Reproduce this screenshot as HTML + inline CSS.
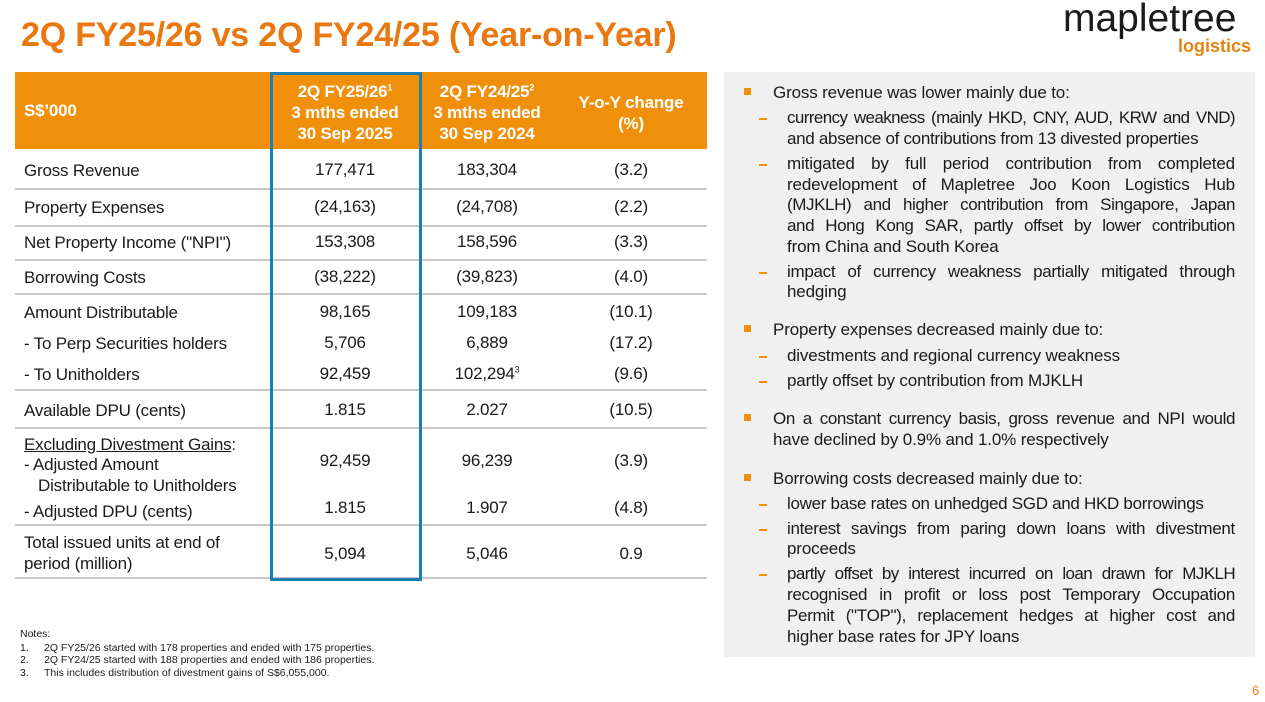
<!DOCTYPE html>
<html><head><meta charset="utf-8">
<style>
body{margin:0;width:1265px;height:702px;background:#fff;position:relative;overflow:hidden;font-family:"Liberation Sans",sans-serif;color:#1a1a1a}
div{position:absolute}
sup{line-height:0;font-size:9px}
.t{font-size:17px;line-height:20px;white-space:nowrap;letter-spacing:-0.2px}
.c{width:140px;text-align:center}
.hl{background:#c8c8c8;height:2px;left:15px;width:692px}
.r{font-size:17px;line-height:20px;white-space:nowrap;letter-spacing:-0.15px}
.j{width:448px;text-align:justify;text-align-last:justify;left:787px}
.sq{width:7px;height:7px;background:#f0900a;left:744px}
.dash{left:759px;width:8px;height:2px;background:#f0900a}
.n{font-size:10.5px;line-height:12px;white-space:nowrap}
</style></head><body>
<div style="left:21px;top:16px;font-size:34px;font-weight:bold;color:#e8780f;white-space:nowrap;letter-spacing:-0.2px">2Q FY25/26 vs 2Q FY24/25 (Year-on-Year)</div>
<div style="left:1063px;top:-3px;font-size:39px;line-height:44px;color:#1a1a1a;white-space:nowrap;letter-spacing:0px">mapletree</div>
<div style="left:1178px;top:36px;font-size:18px;font-weight:bold;color:#e8820f">logistics</div>

<div style="left:15px;top:72px;width:692px;height:77px;background:#f0900a"></div>
<div class="t" style="left:24px;top:101px;color:#fff;font-weight:bold">S$’000</div>
<div class="t c" style="left:275px;top:81px;color:#fff;font-weight:bold;line-height:21px">2Q FY25/26<sup>1</sup><br>3 mths ended<br>30 Sep 2025</div>
<div class="t c" style="left:417px;top:81px;color:#fff;font-weight:bold;line-height:21px">2Q FY24/25<sup>2</sup><br>3 mths ended<br>30 Sep 2024</div>
<div class="t c" style="left:561px;top:92px;color:#fff;font-weight:bold;line-height:21px">Y-o-Y change<br>(%)</div>

<div class="hl" style="top:188px"></div>
<div class="hl" style="top:225px"></div>
<div class="hl" style="top:259px"></div>
<div class="hl" style="top:293px"></div>
<div class="hl" style="top:389px"></div>
<div class="hl" style="top:427px"></div>
<div class="hl" style="top:524px"></div>
<div class="hl" style="top:577px"></div>

<div>
<div class="t" style="left:24px;top:161px">Gross Revenue</div><div class="t c" style="left:275px;top:160px">177,471</div><div class="t c" style="left:417px;top:160px">183,304</div><div class="t c" style="left:561px;top:160px">(3.2)</div></div>
<div>
<div class="t" style="left:24px;top:198px">Property Expenses</div><div class="t c" style="left:275px;top:197px">(24,163)</div><div class="t c" style="left:417px;top:197px">(24,708)</div><div class="t c" style="left:561px;top:197px">(2.2)</div></div>
<div>
<div class="t" style="left:24px;top:233px">Net Property Income ("NPI")</div><div class="t c" style="left:275px;top:232px">153,308</div><div class="t c" style="left:417px;top:232px">158,596</div><div class="t c" style="left:561px;top:232px">(3.3)</div></div>
<div>
<div class="t" style="left:24px;top:268px">Borrowing Costs</div><div class="t c" style="left:275px;top:267px">(38,222)</div><div class="t c" style="left:417px;top:267px">(39,823)</div><div class="t c" style="left:561px;top:267px">(4.0)</div></div>
<div>
<div class="t" style="left:24px;top:303px">Amount Distributable</div><div class="t c" style="left:275px;top:302px">98,165</div><div class="t c" style="left:417px;top:302px">109,183</div><div class="t c" style="left:561px;top:302px">(10.1)</div></div>
<div>
<div class="t" style="left:24px;top:334px">- To Perp Securities holders</div><div class="t c" style="left:275px;top:333px">5,706</div><div class="t c" style="left:417px;top:333px">6,889</div><div class="t c" style="left:561px;top:333px">(17.2)</div></div>
<div>
<div class="t" style="left:24px;top:365px">- To Unitholders</div><div class="t c" style="left:275px;top:364px">92,459</div><div class="t c" style="left:417px;top:364px">102,294<sup>3</sup></div><div class="t c" style="left:561px;top:364px">(9.6)</div></div>
<div>
<div class="t" style="left:24px;top:401px">Available DPU (cents)</div><div class="t c" style="left:275px;top:400px">1.815</div><div class="t c" style="left:417px;top:400px">2.027</div><div class="t c" style="left:561px;top:400px">(10.5)</div></div>
<div>
<div class="t" style="left:24px;top:435px"><u>Excluding Divestment Gains</u>:</div>
<div class="t" style="left:24px;top:455px">- Adjusted Amount</div>
<div class="t" style="left:38px;top:476px">Distributable to Unitholders</div>
<div class="t c" style="left:275px;top:451px">92,459</div><div class="t c" style="left:417px;top:451px">96,239</div><div class="t c" style="left:561px;top:451px">(3.9)</div>
<div class="t" style="left:24px;top:502px">- Adjusted DPU (cents)</div>
<div class="t c" style="left:275px;top:498px">1.815</div><div class="t c" style="left:417px;top:498px">1.907</div><div class="t c" style="left:561px;top:498px">(4.8)</div></div>
<div>
<div class="t" style="left:24px;top:533px">Total issued units at end of</div>
<div class="t" style="left:24px;top:554px">period (million)</div>
<div class="t c" style="left:275px;top:544px">5,094</div><div class="t c" style="left:417px;top:544px">5,046</div><div class="t c" style="left:561px;top:544px">0.9</div></div>

<div style="left:270px;top:72px;width:146px;height:503px;border:3px solid #1a7fb0"></div>

<div>
<div class="n" style="left:20px;top:628px">Notes:</div>
<div class="n" style="left:20px;top:642px">1.</div><div class="n" style="left:44px;top:642px">2Q FY25/26 started with 178 properties and ended with 175 properties.</div>
<div class="n" style="left:20px;top:654px">2.</div><div class="n" style="left:44px;top:654px">2Q FY24/25 started with 188 properties and ended with 186 properties.</div>
<div class="n" style="left:20px;top:667px">3.</div><div class="n" style="left:44px;top:667px">This includes distribution of divestment gains of S$6,055,000.</div>
</div>

<div style="left:724px;top:72px;width:531px;height:585px;background:#f0f0f0"></div>
<div class="sq" style="top:88px"></div>
<div class="r" style="left:773px;top:83px">Gross revenue was lower mainly due to:</div>
<div class="dash" style="top:118px"></div>
<div class="r j" style="top:108px;letter-spacing:-0.6px">currency weakness (mainly HKD, CNY, AUD, KRW and VND)</div>
<div class="r" style="left:787px;top:129px;letter-spacing:-0.3px">and absence of contributions from 13 divested properties</div>
<div class="dash" style="top:164px"></div>
<div class="r j" style="top:154px">mitigated by full period contribution from completed</div>
<div class="r j" style="top:175px">redevelopment of Mapletree Joo Koon Logistics Hub</div>
<div class="r j" style="top:195px;letter-spacing:-0.4px">(MJKLH) and higher contribution from Singapore, Japan</div>
<div class="r j" style="top:216px;letter-spacing:-0.4px">and Hong Kong SAR, partly offset by lower contribution</div>
<div class="r" style="left:787px;top:237px">from China and South Korea</div>
<div class="dash" style="top:272px"></div>
<div class="r j" style="top:262px;letter-spacing:-0.3px">impact of currency weakness partially mitigated through</div>
<div class="r" style="left:787px;top:282px">hedging</div>
<div class="sq" style="top:325px"></div>
<div class="r" style="left:773px;top:320px">Property expenses decreased mainly due to:</div>
<div class="dash" style="top:356px"></div>
<div class="r" style="left:787px;top:346px">divestments and regional currency weakness</div>
<div class="dash" style="top:381px"></div>
<div class="r" style="left:787px;top:371px">partly offset by contribution from MJKLH</div>
<div class="sq" style="top:414px"></div>
<div class="r" style="left:773px;top:409px;width:462px;text-align:justify;text-align-last:justify;letter-spacing:-0.4px">On a constant currency basis, gross revenue and NPI would</div>
<div class="r" style="left:773px;top:430px">have declined by 0.9% and 1.0% respectively</div>
<div class="sq" style="top:474px"></div>
<div class="r" style="left:773px;top:469px">Borrowing costs decreased mainly due to:</div>
<div class="dash" style="top:504px"></div>
<div class="r" style="left:787px;top:494px;letter-spacing:-0.3px">lower base rates on unhedged SGD and HKD borrowings</div>
<div class="dash" style="top:529px"></div>
<div class="r j" style="top:519px;letter-spacing:-0.3px">interest savings from paring down loans with divestment</div>
<div class="r" style="left:787px;top:539px">proceeds</div>
<div class="dash" style="top:574px"></div>
<div class="r j" style="top:564px;letter-spacing:-0.6px">partly offset by interest incurred on loan drawn for MJKLH</div>
<div class="r j" style="top:585px;letter-spacing:-0.3px">recognised in profit or loss post Temporary Occupation</div>
<div class="r j" style="top:606px;letter-spacing:-0.3px">Permit ("TOP"), replacement hedges at higher cost and</div>
<div class="r" style="left:787px;top:627px">higher base rates for JPY loans</div>

<div style="left:1252px;top:683px;font-size:13px;color:#e8820f">6</div>
</body></html>
